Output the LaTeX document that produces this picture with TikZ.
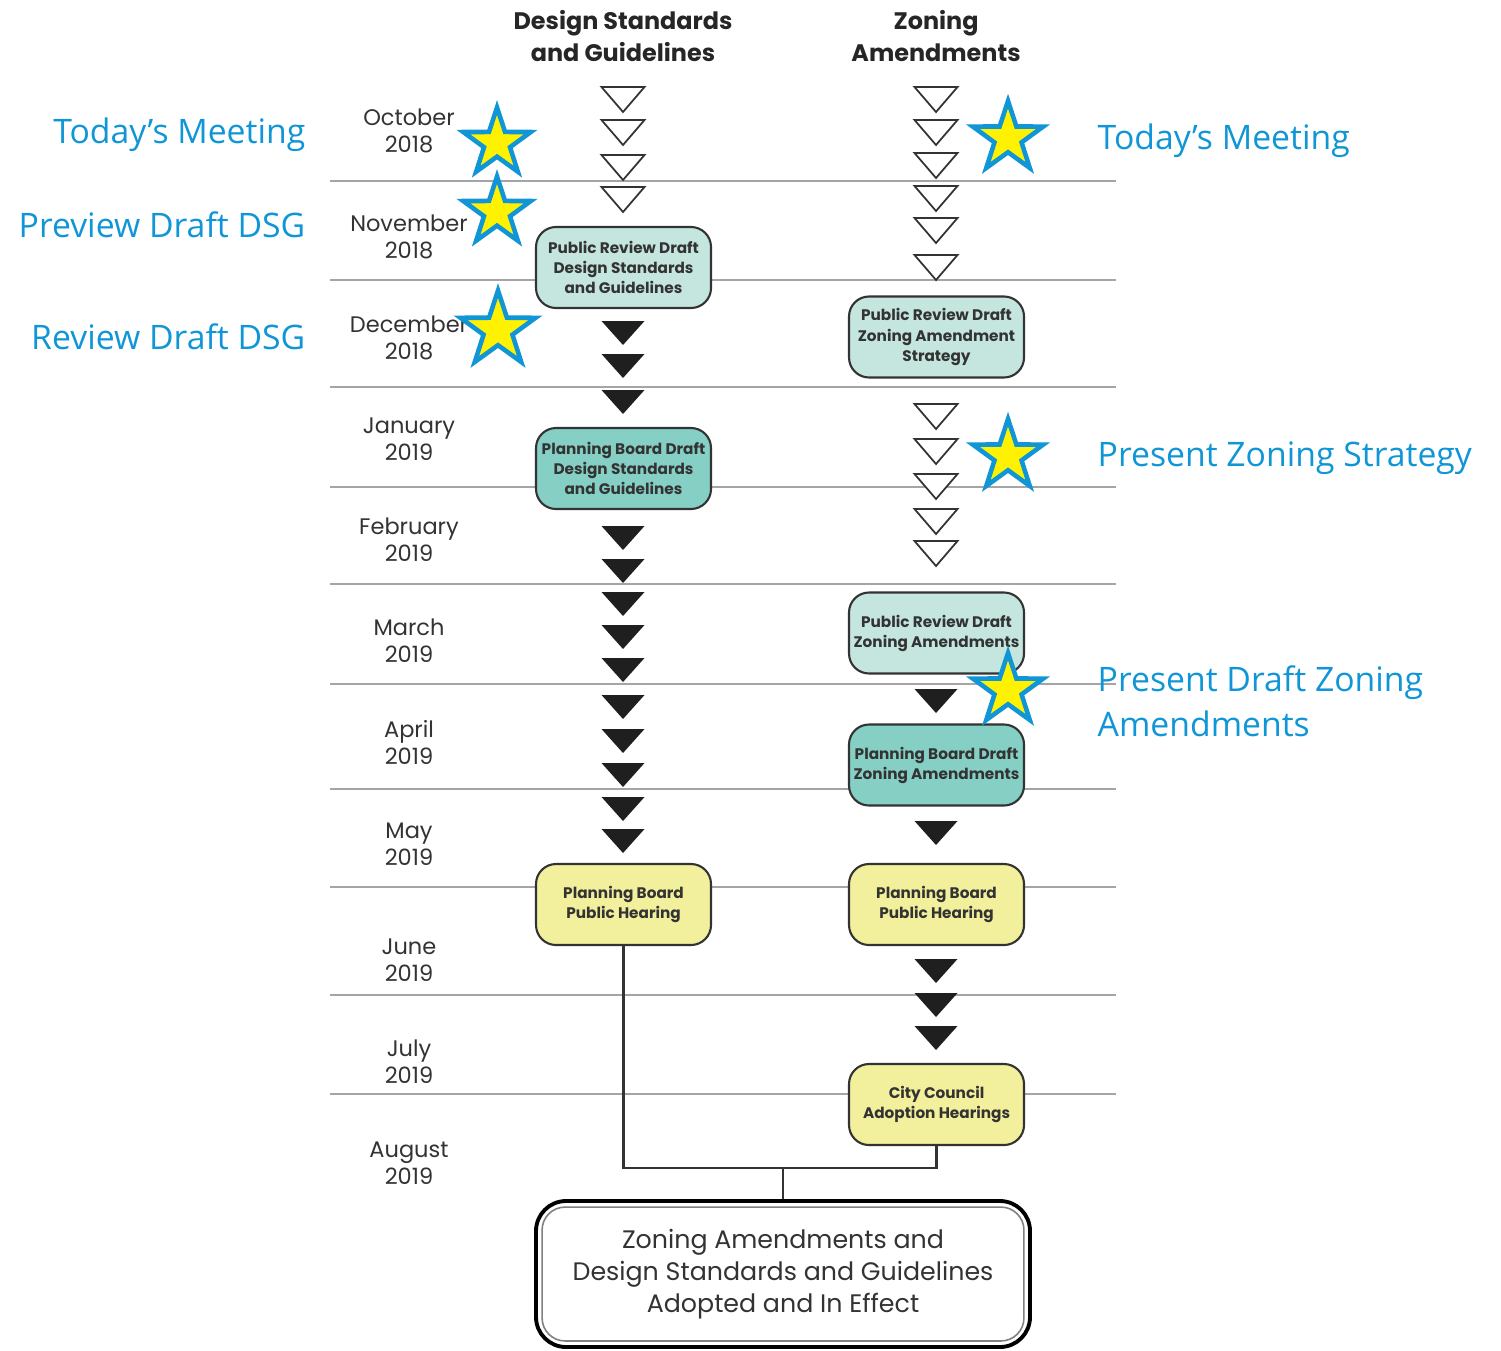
\documentclass[tikz,border=0pt]{standalone}
\usepackage{fontspec}
\setmainfont{Poppins}
\newfontfamily\labelfont{Open Sans}
\usetikzlibrary{positioning,calc,shapes.geometric}
\definecolor{meetblue}{RGB}{16,150,214}
\definecolor{paleteal}{RGB}{196,230,223}
\definecolor{midteal}{RGB}{133,207,196}
\definecolor{paleyellow}{RGB}{242,240,156}
\definecolor{inkgray}{RGB}{51,51,51}
\definecolor{rulegray}{RGB}{165,165,165}
\tikzset{
	%Define style for the step boxes
	stepnode/.style={
		rectangle,
		rounded corners=2mm,
		draw=inkgray, line width=0.6pt,
		minimum width=17.5mm,
		minimum height=8.1mm,
		inner sep=0.3mm,
		align=center, text=inkgray,
		font=\fontsize{4.35}{5.7}\selectfont\bfseries},
	review/.style ={stepnode, fill=paleteal},
	draft/.style  ={stepnode, fill=midteal},
	hearing/.style={stepnode, fill=paleyellow},
	% month and column labels
	month/.style  ={align=center, text=inkgray, font=\fontsize{6.4}{7.7}\selectfont},
	colhead/.style={align=center, text=black!85, font=\fontsize{6.8}{9.1}\selectfont\bfseries},
	% stars and blue notes
	milestone/.style={star, star points=5, star point ratio=2.6,
		draw=meetblue, fill=yellow, line width=1.3pt,
		minimum size=7.1mm, inner sep=0pt},
	meeting/.style={text=meetblue, inner sep=0pt, align=left,
		font=\labelfont\fontsize{9.6}{12.8}\selectfont},
	% lines and triangles
	monthrule/.style={rulegray, line width=0.55pt},
	opentri/.style={draw=inkgray, fill=white, line width=0.5pt, line join=miter},
	filltri/.style={fill=black!88},
	link/.style={draw=inkgray, line width=0.7pt}
}

\begin{document}
\begin{tikzpicture}[x=0.1mm, y=-0.1mm]
	\useasboundingbox (0,0) rectangle (1501,1350);
	% month rules
	\foreach \y in {181,280,387,487,584,684,789,887,995,1094}
		\draw[monthrule] (330,\y) -- (1116,\y);
	% column heads
	\node[colhead] (dsghead) at (623,36) {Design Standards\\and Guidelines};
	\node[colhead] (zahead) at (936,36) {Zoning\\Amendments};
	% months
	\node[month] (oct) at (409,131) {October\\2018};
	\node[month] (nov) at (409,237) {November\\2018};
	\node[month] (dec) at (409,338) {December\\2018};
	\node[month] (jan) at (409,439) {January\\2019};
	\node[month] (feb) at (409,540) {February\\2019};
	\node[month] (mar) at (409,641) {March\\2019};
	\node[month] (apr) at (409,742) {April\\2019};
	\node[month] (may) at (409,844) {May\\2019};
	\node[month] (jun) at (409,960) {June\\2019};
	\node[month] (jul) at (409,1062) {July\\2019};
	\node[month] (aug) at (409,1163) {August\\2019};
	% open triangles
	\foreach \x/\y in {623/87,623/120,623/155,623/187,
		936/87,936/120,936/153,936/186,936/218,936/255,
		936/404,936/439,936/474,936/509,936/541}
		\draw[opentri] (\x-21.5,\y) -- (\x+21.5,\y) -- (\x,\y+25) -- cycle;
	% filled triangles
	\foreach \x/\y in {623/321,623/354,623/390,623/526,623/559,623/592,623/625,
		623/658,623/695,623/729,623/763,623/797,623/829,
		936/689,936/821,936/959,936/993,936/1026}
		\fill[filltri] (\x-21.5,\y) -- (\x+21.5,\y) -- (\x,\y+24) -- cycle;
	% step boxes
	\node[review] (dsgreview) at (623.5,267.5) {Public Review Draft\\Design Standards\\and Guidelines};
	\node[draft] (dsgdraft) at (623.5,468.5) {Planning Board Draft\\Design Standards\\and Guidelines};
	\node[hearing] (dsgph) at (623.5,904.5) {Planning Board\\Public Hearing};
	\node[review] (zastrategy) at (936.5,337) {Public Review Draft\\Zoning Amendment\\Strategy};
	\node[review] (zareview) at (936.5,633) {Public Review Draft\\Zoning Amendments};
	\node[draft] (zadraft) at (936.5,765) {Planning Board Draft\\Zoning Amendments};
	\node[hearing] (zaph) at (936.5,904.5) {Planning Board\\Public Hearing};
	\node[hearing] (ccah) at (936.5,1104.5) {City Council\\Adoption Hearings};
	% final box
	\node[rectangle, rounded corners=3mm, draw=black, line width=1.1pt,
		minimum width=49.4mm, minimum height=14.6mm, align=center, text=inkgray,
		font=\fontsize{7.2}{9.1}\selectfont] (final) at (783,1274)
		{Zoning Amendments and\\Design Standards and Guidelines\\Adopted and In Effect};
	\draw[gray, line width=0.45pt, rounded corners=2.3mm]
		($(final.north west)+(0.8mm,-0.8mm)$) rectangle ($(final.south east)+(-0.8mm,0.8mm)$);
	\coordinate (merge) at (783,1168);
	\draw[link] (dsgph.south) |- (merge) -| (ccah.south);
	\draw[link] (merge) -- (final.north);
	% stars
	\node[milestone] (s1) at (497,143) {};
	\node[milestone] (s2) at (497,212) {};
	\node[milestone, minimum size=7.9mm] (s3) at (498,330) {};
	\node[milestone, minimum size=7.4mm] (s4) at (1008,138) {};
	\node[milestone, minimum size=7.4mm] (s5) at (1008,456) {};
	\node[milestone, minimum size=7.4mm] (s6) at (1008,690) {};
	% blue notes
	\node[meeting, anchor=east] (n1) at (306,135) {Today’s Meeting};
	\node[meeting, anchor=east] (n2) at (306,225) {Preview Draft DSG};
	\node[meeting, anchor=east] (n3) at (306,337) {Review Draft DSG};
	\node[meeting, anchor=west] (n4) at (1097,141) {Today’s Meeting};
	\node[meeting, anchor=west] (n5) at (1097,458) {Present Zoning Strategy};
	\node[meeting, anchor=west] (n6) at (1097,701) {Present Draft Zoning\\Amendments};
\end{tikzpicture}
\end{document}
